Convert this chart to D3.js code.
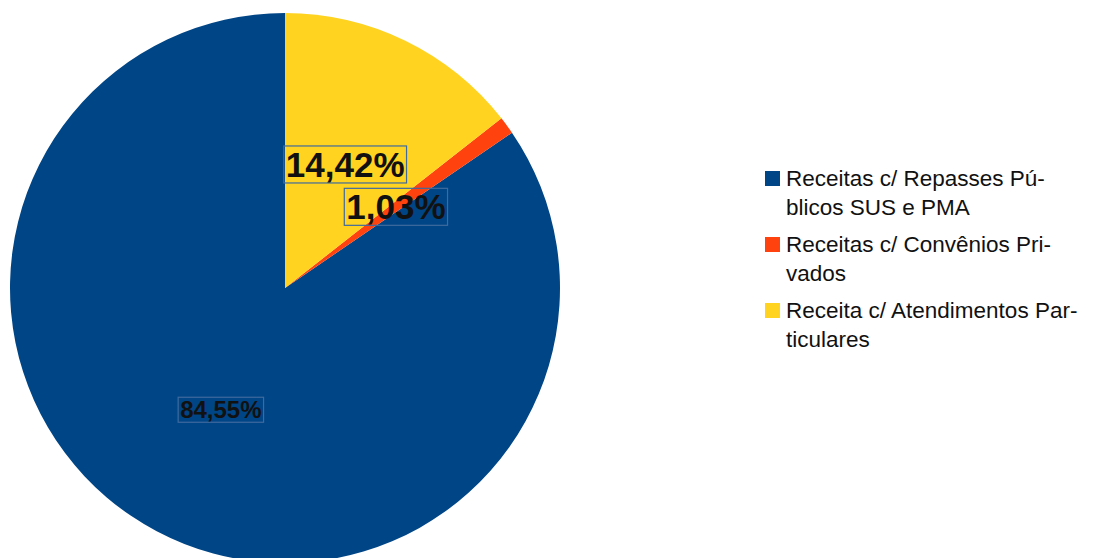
<!DOCTYPE html>
<html>
<head>
<meta charset="utf-8">
<script src="https://cdn.jsdelivr.net/npm/d3@7"></script>
<style>
  body { margin: 0; background: #fff; }
  text { font-family: "Liberation Sans", Arial, sans-serif; }
</style>
</head>
<body>
<div id="chart"></div>
<script>
// Data
const categories = [
    "Receitas c/ Repasses Públicos SUS e PMA",
    "Receitas c/ Convênios Privados",
    "Receita c/ Atendimentos Particulares"
];
const values = [84.55, 1.03, 14.42];
const labels = ["84,55%", "1,03%", "14,42%"];
const legendLines = [
    ["Receitas c/ Repasses Pú-", "blicos SUS e PMA"],
    ["Receitas c/ Convênios Pri-", "vados"],
    ["Receita c/ Atendimentos Par-", "ticulares"]
];
const colors = ["#004586", "#ff420e", "#ffd320"];

const width = 1120;
const height = 558;

const svg = d3.select("#chart")
    .append("svg")
    .attr("width", width)
    .attr("height", height);

const cx = 285, cy = 288, radius = 275;

// slices run counterclockwise from 12 o'clock
const pie = d3.pie()
    .sort(null)
    .value(d => d)
    .startAngle(2 * Math.PI)
    .endAngle(0);

const arcs = pie(values);
const arc = d3.arc().innerRadius(0).outerRadius(radius);

const g = svg.append("g").attr("transform", `translate(${cx},${cy})`);

g.selectAll("path.slice")
    .data(arcs)
    .enter().append("path")
    .attr("class", "slice")
    .attr("d", arc)
    .attr("fill", (d, i) => colors[i]);

// value labels with box
const fontSizes = [24, 35, 35];
const labelG = g.selectAll("g.lbl")
    .data(arcs)
    .enter().append("g")
    .attr("class", "lbl")
    .attr("transform", d => `translate(${arc.centroid(d)})`);

labelG.append("text")
    .attr("text-anchor", "middle")
    .attr("dy", "0.36em")
    .attr("font-weight", "bold")
    .attr("font-size", (d, i) => fontSizes[i])
    .attr("fill", "#111")
    .text((d, i) => labels[i]);

labelG.each(function() {
    const grp = d3.select(this);
    const bb = grp.select("text").node().getBBox();
    grp.insert("rect", "text")
        .attr("x", bb.x - 2)
        .attr("y", bb.y + 1)
        .attr("width", bb.width + 4)
        .attr("height", bb.height - 2)
        .attr("fill", "none")
        .attr("stroke", "#3f6a9e")
        .attr("stroke-width", 1.2);
});

// legend
const legend = svg.append("g").attr("transform", "translate(765,171)");
const itemStep = 66, lineStep = 29;

const items = legend.selectAll("g.item")
    .data(categories)
    .enter().append("g")
    .attr("class", "item")
    .attr("transform", (d, i) => `translate(0,${i * itemStep})`);

items.append("rect")
    .attr("x", 0)
    .attr("y", 0)
    .attr("width", 15)
    .attr("height", 15)
    .attr("fill", (d, i) => colors[i]);

items.each(function(d, i) {
    const t = d3.select(this).append("text")
        .attr("x", 21)
        .attr("y", 15)
        .attr("font-size", 22.5)
        .attr("fill", "#111");
    legendLines[i].forEach((line, j) => {
        t.append("tspan")
            .attr("x", 21)
            .attr("dy", j === 0 ? 0 : lineStep)
            .text(line);
    });
});
</script>
</body>
</html>
